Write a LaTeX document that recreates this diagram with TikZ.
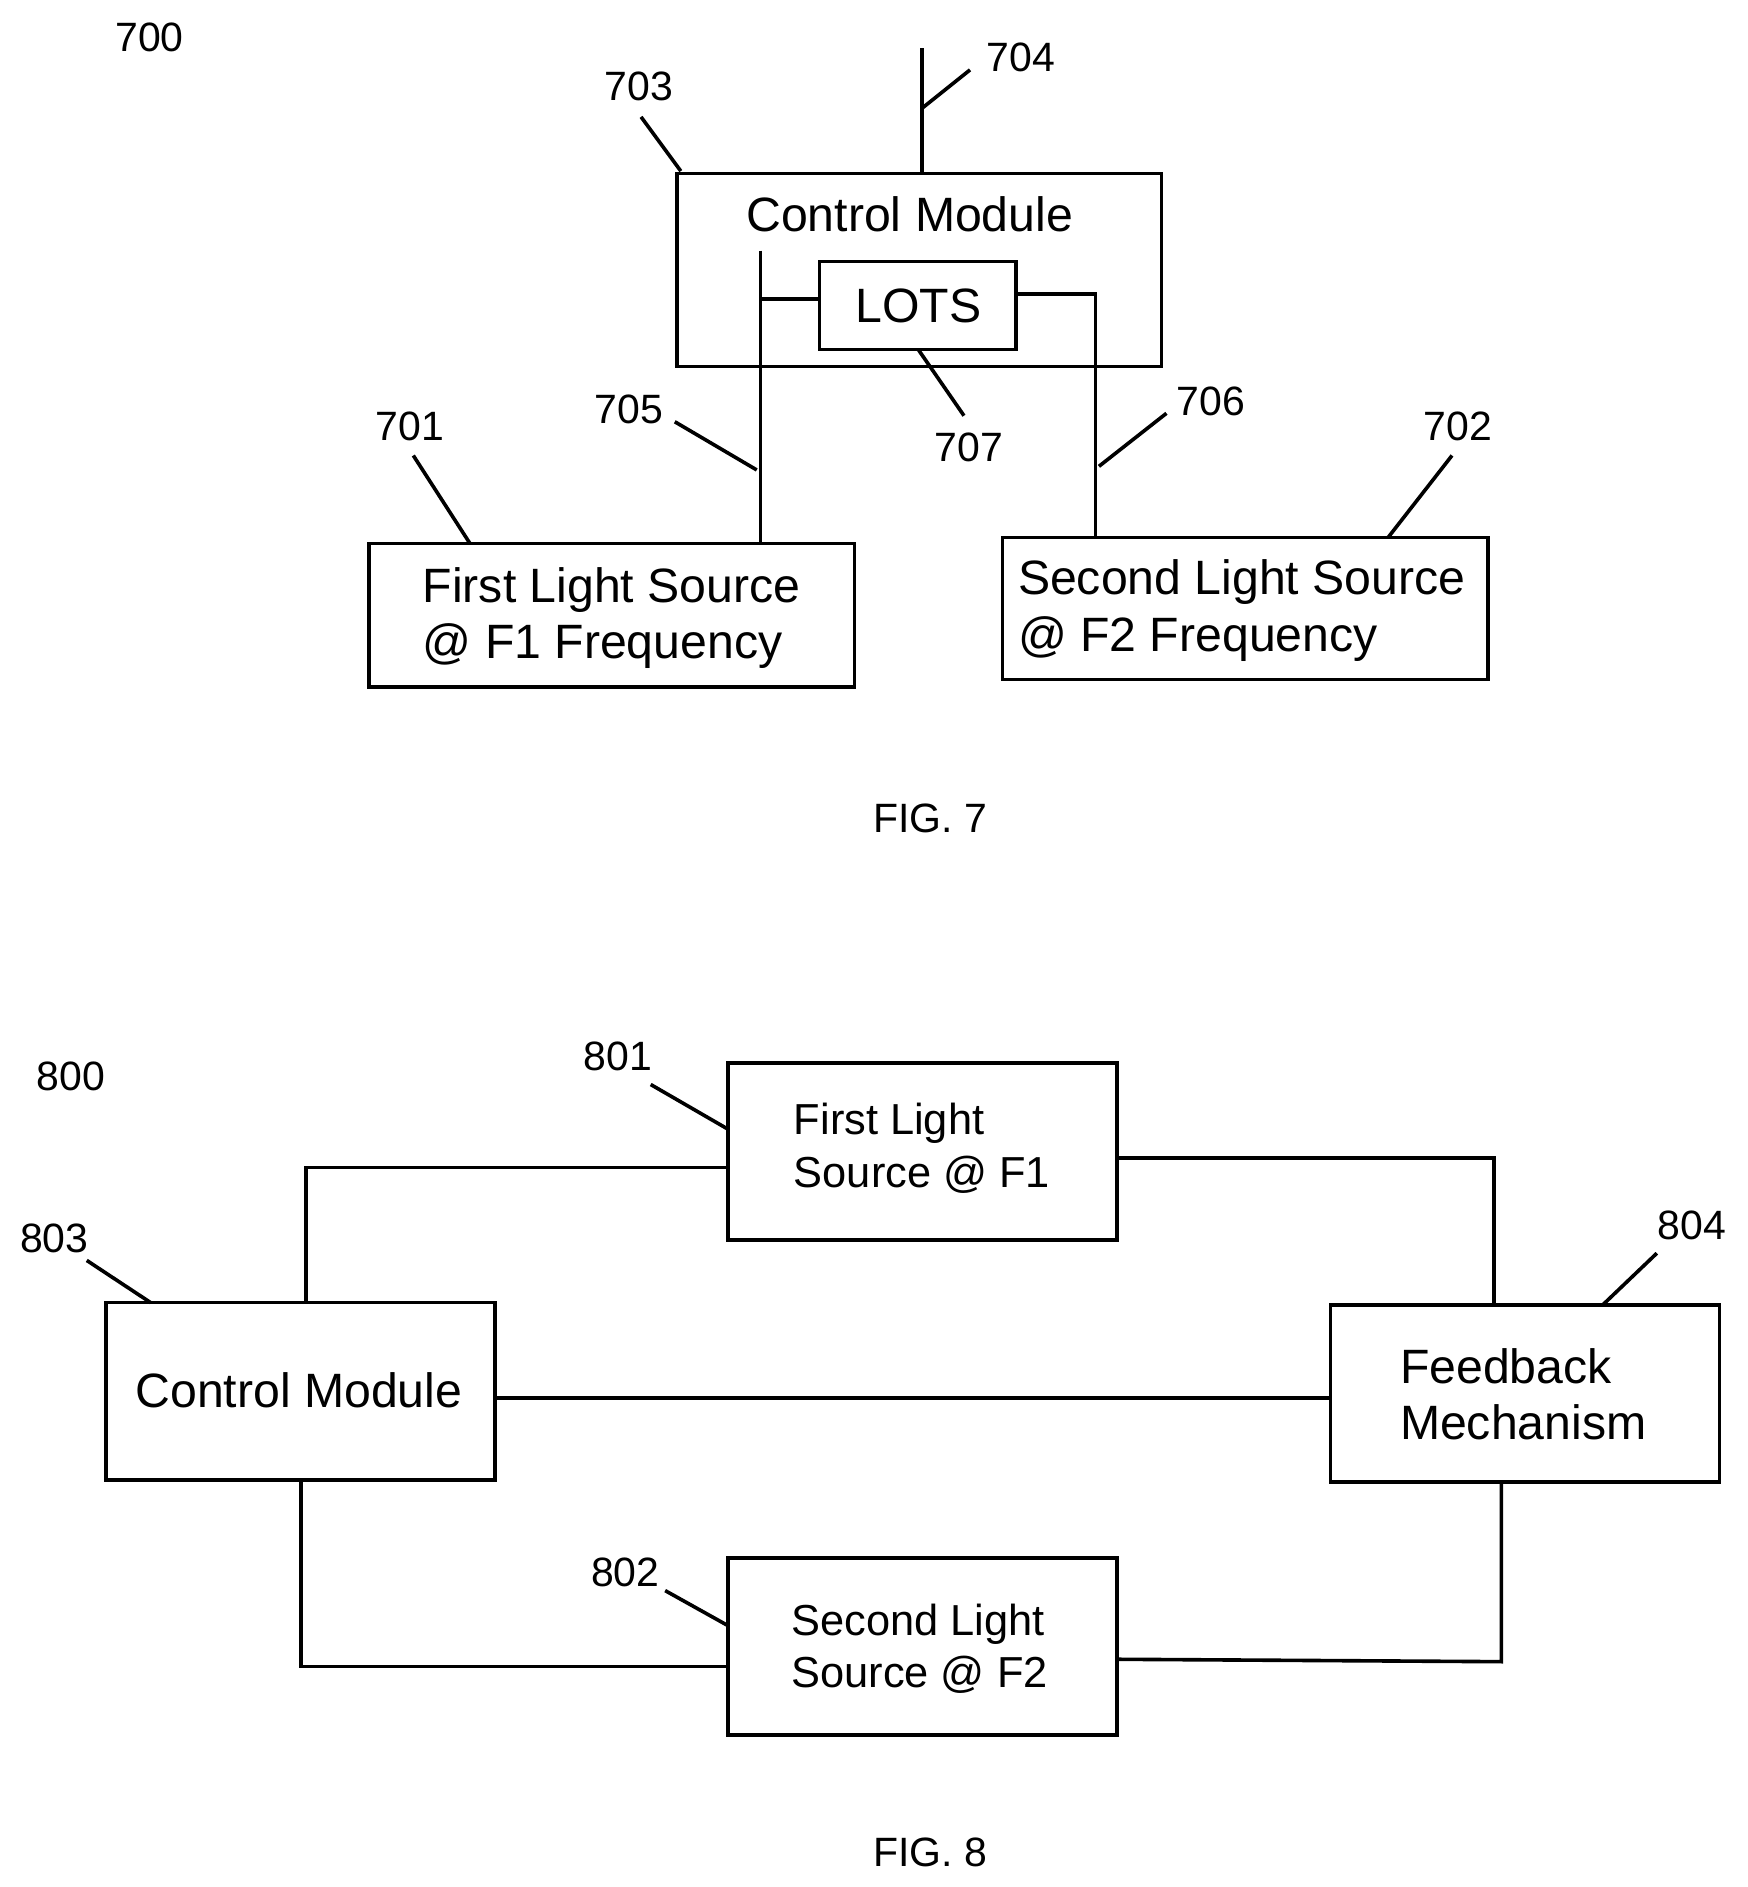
\documentclass[tikz,border=0pt]{standalone}
\usepackage{fontspec}
\setmainfont{Liberation Sans}
\begin{document}
\begin{tikzpicture}[x=1pt,y=-1pt,line width=3pt,
  box/.style={draw,line width=3pt},
  big/.style={font=\fontsize{40}{46}\selectfont},
  mid/.style={font=\fontsize{36}{42}\selectfont},
  lbl/.style={font=\fontsize{34}{40}\selectfont},
  ld/.style={line width=3pt}]
\useasboundingbox (0,0) rectangle (1450,1566);
% ---------- FIG 7
\node[lbl] (l700) at (124,31) {700};
\draw[box] (562,144) rectangle (964,304);
\coordinate (cmtl) at (565,142);
\node[big] (cm7) at (755,178) {Control Module};
\draw[box] (680,217) rectangle (843,290);
\node[big] (lots) at (762,254) {LOTS};
\coordinate (ant0) at (765,144); \coordinate (ant1) at (765,40);
\draw (ant0) -- (ant1);
\coordinate (a2) at (765,90); \coordinate (a3) at (805,58);
\draw[ld] (a2) -- (a3);
\node[lbl] (l704) at (847,48) {704};
\node[lbl] (l703) at (530,72) {703};
\coordinate (c703) at (532,97); \draw[ld] (c703) -- (cmtl);
% connectors
\coordinate (lt) at (631,208); \coordinate (lb) at (631,451);
\coordinate (lm) at (631,248); \coordinate (lotl) at (680,248);
\draw (lt) -- (lb); \draw (lm) -- (lotl);
\coordinate (lotr) at (843,244); \coordinate (rc) at (909,244); \coordinate (rb) at (909,446);
\draw (lotr) -- (rc) -- (rb);
\node[lbl] (l705) at (522,340) {705};
\coordinate (c705a) at (560,350); \coordinate (c705b) at (628,390); \draw[ld] (c705a) -- (c705b);
\node[lbl] (l706) at (1005,333) {706};
\coordinate (c706a) at (968,343); \coordinate (c706b) at (912,387); \draw[ld] (c706a) -- (c706b);
\node[lbl] (l707) at (804,371) {707};
\coordinate (c707a) at (800,345); \coordinate (c707b) at (762,290); \draw[ld] (c707a) -- (c707b);
\node[lbl] (l701) at (340,354) {701};
\coordinate (c701a) at (343,378); \coordinate (c701b) at (390,451); \draw[ld] (c701a) -- (c701b);
\node[lbl] (l702) at (1210,354) {702};
\coordinate (c702a) at (1205,378); \coordinate (c702b) at (1152,446); \draw[ld] (c702a) -- (c702b);
\draw[box] (306,451) rectangle (709,570);
\node[big,anchor=west] (f1a) at (346,490) {First Light Source};
\node[big,anchor=west] (f1b) at (346,536) {@ F1 Frequency};
\draw[box] (832,446) rectangle (1235,564);
\node[big,anchor=west] (f2a) at (840,483) {Second Light Source};
\node[big,anchor=west] (f2b) at (840,530) {@ F2 Frequency};
\node[lbl] (fig7) at (772,679) {FIG. 7};
% ---------- FIG 8
\node[lbl] (l800) at (59,893) {800};
\draw[box] (88,1081) rectangle (411,1228);
\node[big] (cm8) at (248,1154) {Control Module};
\draw[box] (604,882) rectangle (927,1029);
\node[mid,anchor=west] (s1a) at (654,932) {First Light};
\node[mid,anchor=west] (s1b) at (654,975) {Source @ F1};
\draw[box] (1104,1083) rectangle (1427,1230);
\node[big,anchor=west] (fba) at (1157,1134) {Feedback};
\node[big,anchor=west] (fbb) at (1157,1180) {Mechanism};
\draw[box] (604,1293) rectangle (927,1440);
\node[mid,anchor=west] (s2a) at (652,1348) {Second Light};
\node[mid,anchor=west] (s2b) at (652,1390) {Source @ F2};
\node[lbl] (l801) at (513,877) {801};
\coordinate (c801a) at (540,900); \coordinate (c801b) at (604,937); \draw[ld] (c801a) -- (c801b);
\node[lbl] (l802) at (519,1305) {802};
\coordinate (c802a) at (552,1320); \coordinate (c802b) at (604,1349); \draw[ld] (c802a) -- (c802b);
\node[lbl] (l803) at (45,1028) {803};
\coordinate (c803a) at (72,1046); \coordinate (c803b) at (125,1081); \draw[ld] (c803a) -- (c803b);
\node[lbl] (l804) at (1404,1017) {804};
\coordinate (c804a) at (1375,1040); \coordinate (c804b) at (1330,1083); \draw[ld] (c804a) -- (c804b);
\coordinate (p1) at (254,1081); \coordinate (p2) at (254,969); \coordinate (p3) at (604,969);
\draw (p1) -- (p2) -- (p3);
\coordinate (q1) at (927,961); \coordinate (q2) at (1240,961); \coordinate (q3) at (1240,1083);
\draw (q1) -- (q2) -- (q3);
\coordinate (m1) at (411,1160); \coordinate (m2) at (1104,1160); \draw (m1) -- (m2);
\coordinate (r1) at (250,1228); \coordinate (r2) at (250,1383); \coordinate (r3) at (604,1383);
\draw (r1) -- (r2) -- (r3);
\coordinate (t1) at (1246,1230); \coordinate (t2) at (1246,1379); \coordinate (t3) at (927,1377);
\draw (t1) -- (t2) -- (t3);
\node[lbl] (fig8) at (772,1537) {FIG. 8};
\end{tikzpicture}
\end{document}
